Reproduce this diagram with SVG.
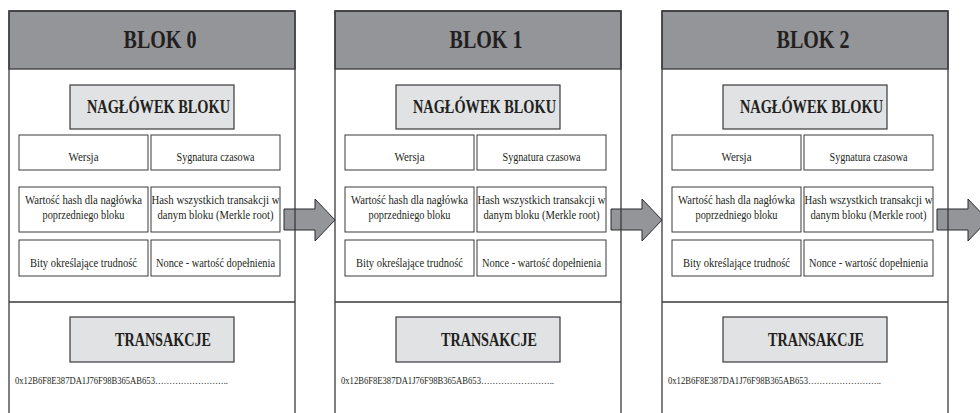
<svg xmlns="http://www.w3.org/2000/svg" width="980" height="413" viewBox="0 0 980 413">
<style>
.frame{fill:none;stroke:#3a3a3c;stroke-width:1.3}
.hdr{fill:#939598;stroke:#3a3a3c;stroke-width:1.3}
.sub{fill:#e1e2e4;stroke:#3a3a3c;stroke-width:1.2}
.cell{fill:#fff;stroke:#3a3a3c;stroke-width:1}
.arrow{fill:#939598;stroke:#2b2b2d;stroke-width:1}
text{font-family:"Liberation Serif","Times New Roman",serif;fill:#231f20}
.t1{font-size:25px;font-weight:bold;text-anchor:middle}
.t2{font-size:18px;font-weight:bold;text-anchor:middle}
.c{font-size:12px;text-anchor:middle}
.hex{font-size:11px}
</style>
<defs>
<g id="blk">
<rect class="hdr" x="9" y="11" width="286" height="58"/>
<path class="frame" d="M9 420V11H295V420M9 302H295"/>
<rect class="sub" x="70" y="85" width="164" height="44"/>
<text class="t2" x="158.5" y="113" textLength="143" lengthAdjust="spacingAndGlyphs">NAGŁÓWEK BLOKU</text>
<rect class="cell" x="19" y="135" width="129" height="35"/>
<rect class="cell" x="151" y="135" width="129" height="35"/>
<rect class="cell" x="19" y="187" width="129" height="45"/>
<rect class="cell" x="151" y="187" width="129" height="45"/>
<rect class="cell" x="19" y="240" width="129" height="36"/>
<rect class="cell" x="151" y="240" width="129" height="36"/>
<text class="c" x="83.5" y="161" textLength="30" lengthAdjust="spacingAndGlyphs">Wersja</text>
<text class="c" x="215.5" y="161" textLength="78" lengthAdjust="spacingAndGlyphs">Sygnatura czasowa</text>
<text class="c" x="83.5" y="204" textLength="117" lengthAdjust="spacingAndGlyphs">Wartość hash dla nagłówka</text>
<text class="c" x="83.5" y="219" textLength="82" lengthAdjust="spacingAndGlyphs">poprzedniego bloku</text>
<text class="c" x="215.5" y="204" textLength="128" lengthAdjust="spacingAndGlyphs">Hash wszystkich transakcji w</text>
<text class="c" x="215.5" y="219" textLength="116" lengthAdjust="spacingAndGlyphs">danym bloku (Merkle root)</text>
<text class="c" x="83.5" y="267" textLength="107" lengthAdjust="spacingAndGlyphs">Bity określające trudność</text>
<text class="c" x="215.5" y="267" textLength="119" lengthAdjust="spacingAndGlyphs">Nonce - wartość dopełnienia</text>
<rect class="sub" x="70" y="317" width="164" height="45"/>
<text class="t2" x="163" y="346" textLength="96" lengthAdjust="spacingAndGlyphs">TRANSAKCJE</text>
<text class="hex" x="15" y="384" textLength="213" lengthAdjust="spacingAndGlyphs">0x12B6F8E387DA1J76F98B365AB653……………………..</text>
</g>
</defs>
<g id="connectors">
<polygon class="arrow" points="284,209 315,209 315,199 335,220 315,241 315,230 284,230"/>
<polygon class="arrow" points="611,209 642,209 642,199 662,220 642,241 642,230 611,230"/>
<polygon class="arrow" points="937,209 968,209 968,199 988,220 968,241 968,230 937,230"/>
</g>
<g id="blok0">
<use href="#blk"/>
<text class="t1" x="160" y="48" textLength="73" lengthAdjust="spacingAndGlyphs">BLOK 0</text>
</g>
<g id="blok1" transform="translate(326,0)">
<use href="#blk"/>
<text class="t1" x="160" y="48" textLength="73" lengthAdjust="spacingAndGlyphs">BLOK 1</text>
</g>
<g id="blok2" transform="translate(653,0)">
<use href="#blk"/>
<text class="t1" x="160" y="48" textLength="73" lengthAdjust="spacingAndGlyphs">BLOK 2</text>
</g>
</svg>
